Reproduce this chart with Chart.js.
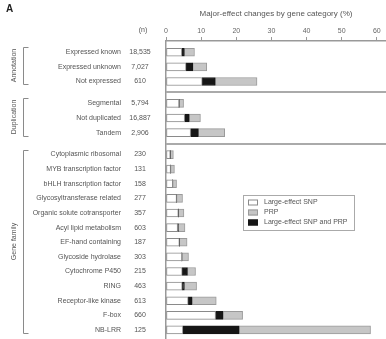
<!DOCTYPE html>
<html>
<head>
<meta charset="utf-8">
<script src="https://cdn.jsdelivr.net/npm/chart.js@4"></script>
<style>
  html, body { margin: 0; padding: 0; background: #fff; overflow: hidden; }
  #wrap { position: relative; width: 386px; height: 339px; }
</style>
</head>
<body>
<div id="wrap"><canvas id="c"></canvas></div>
<script>
// Gene groups and the categories inside them (top to bottom)
const groupNames = ['Annotation', 'Duplication', 'Gene family'];
const groupSizes = [3, 3, 13];

const categories = [
  'Expressed known', 'Expressed unknown', 'Not expressed',
  'Segmental', 'Not duplicated', 'Tandem',
  'Cytoplasmic ribosomal', 'MYB transcription factor', 'bHLH transcription factor',
  'Glycosyltransferase related', 'Organic solute cotransporter', 'Acyl lipid metabolism',
  'EF-hand containing', 'Glycoside hydrolase', 'Cytochrome P450', 'RING',
  'Receptor-like kinase', 'F-box', 'NB-LRR'
];

const nValues = [
  '18,535', '7,027', '610',
  '5,794', '16,887', '2,906',
  '230', '131', '158', '277', '357', '603', '187', '303', '215', '463', '613', '660', '125'
];

// Percent of genes with each kind of major-effect change
const snpOnly   = [4.5, 5.7, 10.3,  3.7, 5.3, 7.0,  1.2, 1.3, 1.9, 3.0, 3.5, 3.3, 3.8, 4.5, 4.6, 4.6, 6.3, 14.1, 4.8];
const snpAndPrp = [0.7, 1.9, 3.7,   0,   1.3, 2.2,  0,   0,   0,   0,   0,   0.2, 0,   0,   1.5, 0.6, 1.1, 2.1, 16.0];
const prpOnly   = [2.9, 4.0, 11.9,  1.3, 3.2, 7.5,  0.9, 1.1, 1.1, 1.7, 1.6, 1.9, 2.2, 1.9, 2.3, 3.5, 6.9, 5.6, 37.4];

const xTicks = [0, 10, 20, 30, 40, 50, 60];
const axisTitle = 'Major-effect changes by gene category (%)';
const legendLabels = ['Large-effect SNP', 'PRP', 'Large-effect SNP and PRP'];

// Row positions on the index scale: half a row of space between groups
const rowPos = [];
groupSizes.forEach((size, g) => {
  for (let k = 0; k < size; k++) rowPos.push(rowPos.length + 0.5 * g);
});

const FONT = '"Liberation Sans", Arial, Helvetica, sans-serif';
const TEXT = '#555';

const style = {
  snp:  { fill: '#ffffff', edge: '#8a8a8a' },
  prp:  { fill: '#c6c6c6', edge: '#9a9a9a' },
  both: { fill: '#161616', edge: '#161616' }
};

function series(label, values, st) {
  return {
    label,
    data: values.map((v, i) => ({ x: v, y: rowPos[i] })),
    backgroundColor: st.fill,
    borderColor: st.edge,
    borderWidth: ctx => (ctx.raw && ctx.raw.x > 0 ? 1 : 0),
    borderSkipped: false,
    barThickness: 8
  };
}

// keep the axes from reserving extra room for their edge labels
function noEdgePadding(s) {
  s.paddingTop = 0; s.paddingBottom = 0; s.paddingLeft = 0; s.paddingRight = 0;
}

const decorations = {
  id: 'decorations',
  beforeDatasetsDraw(chart) {
    const { ctx, chartArea } = chart;
    const y = chart.scales.y;
    // group separators across the plot
    ctx.save();
    ctx.strokeStyle = '#aaaaaa';
    ctx.lineWidth = 2;
    let idx = 0;
    for (let g = 0; g < groupSizes.length - 1; g++) {
      idx += groupSizes[g];
      const mid = (rowPos[idx - 1] + rowPos[idx]) / 2;
      const py = Math.round(y.getPixelForValue(mid));
      ctx.beginPath();
      ctx.moveTo(chartArea.left, py);
      ctx.lineTo(chart.width, py);
      ctx.stroke();
    }
    ctx.restore();
  },
  afterDraw(chart) {
    const { ctx } = chart;
    const y = chart.scales.y;
    ctx.save();

    // panel letter
    ctx.fillStyle = '#222';
    ctx.font = 'bold 10px ' + FONT;
    ctx.textAlign = 'left';
    ctx.textBaseline = 'middle';
    ctx.fillText('A', 6, 9);

    // n column
    ctx.fillStyle = TEXT;
    ctx.font = '7px ' + FONT;
    ctx.textAlign = 'center';
    ctx.fillText('(n)', 143, 30);
    nValues.forEach((n, i) => {
      ctx.fillText(n, 140, y.getPixelForValue(rowPos[i]));
    });

    // group brackets and rotated group names
    let start = 0;
    groupSizes.forEach((size, g) => {
      const top = Math.round(y.getPixelForValue(rowPos[start]) - 5);
      const bot = Math.round(y.getPixelForValue(rowPos[start + size - 1]) + 3);
      ctx.strokeStyle = '#8a8a8a';
      ctx.lineWidth = 1;
      ctx.beginPath();
      ctx.moveTo(28.5, top + 0.5);
      ctx.lineTo(23.5, top + 0.5);
      ctx.lineTo(23.5, bot + 0.5);
      ctx.lineTo(28.5, bot + 0.5);
      ctx.stroke();
      ctx.save();
      ctx.translate(14, (top + bot) / 2);
      ctx.rotate(-Math.PI / 2);
      ctx.fillStyle = TEXT;
      ctx.font = '7px ' + FONT;
      ctx.textAlign = 'center';
      ctx.textBaseline = 'middle';
      ctx.fillText(groupNames[g], 0, 0);
      ctx.restore();
      start += size;
    });

    // legend box
    const lx = 243, ly = 195, lw = 111, lh = 35;
    ctx.strokeStyle = '#aaaaaa';
    ctx.lineWidth = 1;
    ctx.strokeRect(lx + 0.5, ly + 0.5, lw, lh);
    const order = [0, 2, 1]; // SNP, PRP, both
    order.forEach((dsIndex, k) => {
      const ds = chart.data.datasets[dsIndex];
      const cy = ly + 7.5 + k * 10;
      ctx.fillStyle = ds.backgroundColor;
      ctx.fillRect(248, cy - 3, 10, 6);
      ctx.strokeStyle = ds.borderColor;
      ctx.strokeRect(248.5, cy - 2.5, 9, 5);
      ctx.fillStyle = TEXT;
      ctx.font = '7px ' + FONT;
      ctx.textAlign = 'left';
      ctx.textBaseline = 'middle';
      ctx.fillText(legendLabels[k], 264, cy);
    });
    ctx.restore();
  }
};

new Chart(document.getElementById('c'), {
  type: 'bar',
  data: {
    datasets: [
      series(legendLabels[0], snpOnly, style.snp),
      series(legendLabels[2], snpAndPrp, style.both),
      series(legendLabels[1], prpOnly, style.prp)
    ]
  },
  options: {
    indexAxis: 'y',
    responsive: true,
    maintainAspectRatio: false,
    devicePixelRatio: 1,
    animation: false,
    layout: { padding: 0 },
    plugins: { legend: { display: false }, tooltip: { enabled: false } },
    scales: {
      x: {
        type: 'linear',
        position: 'top',
        stacked: true,
        min: 0,
        max: 62.6,
        afterBuildTicks: s => { s.ticks = xTicks.map(v => ({ value: v })); },
        afterFit: s => { s.height = 41; noEdgePadding(s); },
        grid: { drawOnChartArea: false, drawTicks: true, tickLength: 4, color: '#999', lineWidth: 1 },
        border: { color: '#999', width: 1.5 },
        ticks: { font: { size: 7, family: FONT }, color: '#666', padding: 2, maxRotation: 0 },
        title: {
          display: true,
          text: axisTitle,
          font: { size: 8, family: FONT },
          color: TEXT,
          padding: { top: 9, bottom: 0 }
        }
      },
      y: {
        type: 'linear',
        reverse: true,
        stacked: true,
        offset: false,
        min: -0.77,
        max: 19.62,
        afterBuildTicks: s => { s.ticks = rowPos.map(v => ({ value: v })); },
        afterFit: s => { s.width = 166; noEdgePadding(s); },
        grid: { drawOnChartArea: false, drawTicks: false },
        border: { color: '#999', width: 1.5 },
        ticks: {
          autoSkip: false,
          callback: (v, i) => categories[i],
          font: { size: 7, family: FONT },
          color: TEXT,
          padding: 45
        }
      }
    }
  },
  plugins: [decorations]
});
</script>
</body>
</html>
